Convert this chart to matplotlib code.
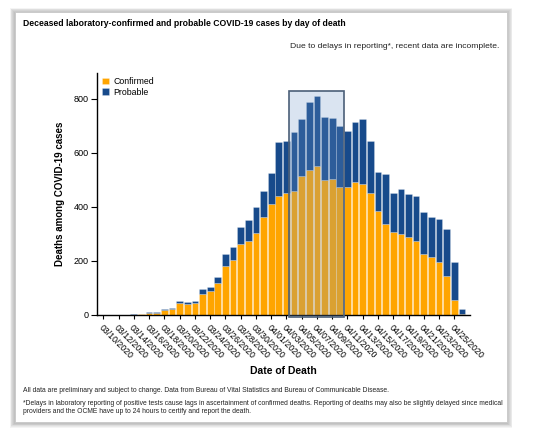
import pandas as pd
import matplotlib.pyplot as plt
from matplotlib.patches import Rectangle

plt.rcParams['font.family'] = ['Liberation Sans', 'DejaVu Sans']

# Days of death, 03/10/2020 - 04/26/2020
dates = pd.date_range('2020-03-10', '2020-04-26').strftime('%m/%d/%Y').tolist()

confirmed = [0, 0, 0, 0, 0, 4, 8, 6, 20, 23, 46, 42, 46, 79, 90, 118,
             183, 204, 263, 275, 305, 363, 411, 440, 453, 460, 516, 537,
             553, 500, 502, 475, 475, 491, 486, 451, 385, 336, 306, 299,
             290, 273, 225, 215, 197, 143, 55, 3]
probable = [0, 0, 0, 0, 2, 0, 2, 4, 4, 4, 6, 5, 6, 16, 15, 23,
            43, 47, 63, 76, 94, 97, 116, 200, 193, 217, 210, 253,
            256, 233, 228, 223, 208, 225, 239, 192, 143, 187, 145, 169,
            157, 167, 155, 146, 158, 177, 142, 20]

# Peak period highlighted on the chart
highlight = ['04/04/2020', '04/10/2020']

orange = '#FFA500'
blue = '#174A8B'

fig = plt.figure(figsize=(5.4, 4.38), dpi=100)

# Card with a soft shadow
for i in range(6):
    pad = (6 - i) * 0.9
    fig.patches.append(Rectangle(((15 - pad) / 540, (16.3 - pad - 1) / 438),
                                 (492 + 2 * pad) / 540, (409.7 + 2 * pad) / 438,
                                 transform=fig.transFigure, facecolor='black',
                                 edgecolor='none', alpha=0.045, zorder=0))
fig.patches.append(Rectangle((15 / 540, 16.3 / 438), 492 / 540, 409.7 / 438,
                             transform=fig.transFigure, facecolor='white',
                             edgecolor='#c8c8c8', lw=0.6, zorder=1))

fig.text(23 / 540, 1 - 24 / 438,
         'Deceased laboratory-confirmed and probable COVID-19 cases by day of death',
         fontsize=6.25, fontweight='bold', va='center', ha='left')
fig.text(499 / 540, 1 - 47 / 438,
         'Due to delays in reporting*, recent data are incomplete.',
         fontsize=6.1, va='center', ha='right', color='#222222')

ax = fig.add_axes([96.7 / 540, 123 / 438, 373.3 / 540, 242 / 438])
ax.set_zorder(5)
ax.patch.set_alpha(0)
x = list(range(len(dates)))
ax.bar(x, confirmed, width=0.88, color=orange, edgecolor=(1, 1, 1, 0.4),
       lw=0.4, label='Confirmed')
ax.bar(x, probable, bottom=confirmed, width=0.88, color=blue,
       edgecolor=(1, 1, 1, 0.4), lw=0.4, label='Probable')

# Highlight box
i0, i1 = dates.index(highlight[0]), dates.index(highlight[1])
totals = [c + p for c, p in zip(confirmed, probable)]
top = max(totals[i0:i1 + 1]) * 1.025
ax.add_patch(Rectangle((i0 - 0.6, -7), (i1 - i0) + 1.2, top + 7,
                       facecolor=(0.435, 0.592, 0.784, 0.25),
                       edgecolor='#4b5f78', lw=1.2, clip_on=False, zorder=3))

ax.set_xlim(-0.87, 48.06)
ax.set_ylim(0, 896)
ax.set_yticks([0, 200, 400, 600, 800])
ax.set_xticks(x[::2])
ax.set_xticklabels(dates[::2], rotation=-45, ha='left', va='top',
                   rotation_mode='anchor', fontsize=6.3)
ax.tick_params(axis='y', labelsize=6.5, length=4.5, width=0.8, pad=1.5)
ax.tick_params(axis='x', length=3, width=0.8, pad=3)
for s in ['top', 'right']:
    ax.spines[s].set_visible(False)
for s in ['left', 'bottom']:
    ax.spines[s].set_linewidth(1.0)

ax.set_ylabel('Deaths among COVID-19 cases', fontsize=7, fontweight='bold')
ax.yaxis.set_label_coords(-0.098, 0.5)
ax.set_xlabel('Date of Death', fontsize=7.5, fontweight='bold')
ax.xaxis.set_label_coords(0.499, -0.2314)
ax.xaxis.label.set_va('center')
ax.yaxis.label.set_va('center')

ax.legend(loc='upper left', bbox_to_anchor=(0.0, 1.005), frameon=False,
          fontsize=6.3, handlelength=0.8, handleheight=0.8,
          handletextpad=0.5, labelspacing=0.2, borderaxespad=0.2)

fig.text(23 / 540, 1 - 390 / 438,
         'All data are preliminary and subject to change. Data from Bureau of '
         'Vital Statistics and Bureau of Communicable Disease.',
         fontsize=4.9, va='center', ha='left', color='#222222')
fig.text(23 / 540, 1 - 403.5 / 438,
         '*Delays in laboratory reporting of positive tests cause lags in '
         'ascertainment of confirmed deaths. Reporting of deaths may also be '
         'slightly delayed since medical',
         fontsize=4.9, va='center', ha='left', color='#222222')
fig.text(23 / 540, 1 - 411.8 / 438,
         'providers and the OCME have up to 24 hours to certify and report the death.',
         fontsize=4.9, va='center', ha='left', color='#222222')

fig.savefig('out.png', dpi=100)
